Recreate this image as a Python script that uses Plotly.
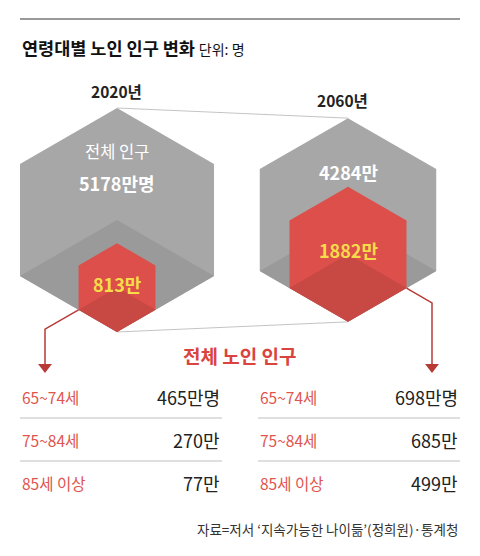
import math
import plotly.graph_objects as go

# data
years = ["2020년", "2060년"]
total_pop = [5178, 4284]          # 만명
elderly_pop = [813, 1882]         # 만명
total_labels = ["5178만명", "4284만"]
elderly_labels = ["813만", "1882만"]
age_groups = ["65~74세", "75~84세", "85세 이상"]
age_2020 = ["465만명", "270만", "77만"]
age_2060 = ["698만명", "685만", "499만"]

# page body keeps its 8px margin, so the axes are set up in window pixels
W, H = 464, 540
OFF = 8
KR = "Noto Sans CJK KR"

GRAY = "#a7a7a7"
GRAY_D = "#9a9a9a"
RED = "#dc4f4a"
RED_D = "#c84843"
LEAD = "#b73a36"
YEL = "#f7dc4a"

scale = 112 / math.sqrt(total_pop[0])   # px per sqrt(만명)
centers_x = [117, 348]
center_y = 220


def hexagon(cx, cy, r):
    h = r * math.sqrt(3) / 2
    return [(cx, cy - r), (cx + h, cy - r / 2), (cx + h, cy + r / 2),
            (cx, cy + r), (cx - h, cy + r / 2), (cx - h, cy - r / 2)]


def poly(pts, color, fig):
    xs = [p[0] for p in pts] + [pts[0][0]]
    ys = [p[1] for p in pts] + [pts[0][1]]
    fig.add_trace(go.Scatter(x=xs, y=ys, fill="toself", fillcolor=color,
                             mode="lines", line=dict(width=0),
                             hoverinfo="skip", showlegend=False))


fig = go.Figure()

big = []
small = []
for i in range(2):
    R = scale * math.sqrt(total_pop[i])
    r = scale * math.sqrt(elderly_pop[i])
    cx = centers_x[i]
    big.append(hexagon(cx, center_y, R))
    small.append(hexagon(cx, center_y + R - r, r))

# thin connector lines between the two cubes
for k in (0, 3):
    fig.add_trace(go.Scatter(x=[big[0][k][0], big[1][k][0]],
                             y=[big[0][k][1], big[1][k][1]],
                             mode="lines", line=dict(color="#c4c4c4", width=1),
                             hoverinfo="skip", showlegend=False))

for i in range(2):
    B, S = big[i], small[i]
    cx = centers_x[i]
    poly(B, GRAY, fig)
    poly([(cx, center_y), B[2], B[3], B[4]], GRAY_D, fig)
    s_cy = (S[0][1] + S[3][1]) / 2
    poly(S, RED, fig)
    poly([(cx, s_cy), S[2], S[3], S[4]], RED_D, fig)

# leader lines with arrows
lead_x = [45, 432]
for i in range(2):
    S = small[i]
    v = S[4] if i == 0 else S[2]
    dx = lead_x[i] - v[0]
    y1 = v[1] + abs(dx) * math.tan(math.radians(30))
    fig.add_trace(go.Scatter(x=[v[0], lead_x[i], lead_x[i]], y=[v[1], y1, 364],
                             mode="lines", line=dict(color=LEAD, width=1.5),
                             hoverinfo="skip", showlegend=False))
    fig.add_trace(go.Scatter(x=[lead_x[i]], y=[367], mode="markers",
                             marker=dict(symbol="triangle-down", size=12, color=LEAD,
                                         line=dict(width=0)),
                             hoverinfo="skip", showlegend=False))

ann = []


def txt(x, y, s, size, color, xanchor="center"):
    ann.append(dict(x=x, y=y, xref="x", yref="y", text=s, showarrow=False,
                    xanchor=xanchor, yanchor="middle",
                    font=dict(family=KR, size=size, color=color)))


txt(20, 47, "<b>연령대별 노인 인구 변화</b> <span style='font-size:14px'>단위: 명</span>",
    17.5, "#111", xanchor="left")
txt(116, 91, "<b>" + years[0] + "</b>", 15.5, "#222")
txt(342, 100, "<b>" + years[1] + "</b>", 15.5, "#222")

txt(117, 151, "전체 인구", 16.5, "white")
txt(117, 183, "<b>" + total_labels[0] + "</b>", 18, "white")
txt(348, 172, "<b>" + total_labels[1] + "</b>", 18, "white")
for i in range(2):
    S = small[i]
    txt(centers_x[i], (S[0][1] + S[3][1]) / 2 - 4, "<b>" + elderly_labels[i] + "</b>",
        18, YEL)

txt(240, 355, "<b>전체 노인 인구</b>", 19, "#d9443e")

row_y = [397, 440, 483]
for j in range(3):
    txt(20, row_y[j], age_groups[j], 15.5, "#e0544d", "left")
    txt(258, row_y[j], age_groups[j], 15.5, "#e0544d", "left")
    txt(222, row_y[j], age_2020[j], 18, "#222", "right")
    txt(460, row_y[j], age_2060[j], 18, "#222", "right")

txt(460, 529, "자료=저서 ‘지속가능한 나이듦’(정희원)·통계청", 13.5, "#333", "right")

shapes = [dict(type="line", xref="x", yref="y", x0=20, x1=460, y0=19, y1=19,
               line=dict(color="#999", width=2))]
for yy in (418, 461):
    for x0, x1 in ((20, 222), (258, 460)):
        shapes.append(dict(type="line", xref="x", yref="y", x0=x0, x1=x1,
                           y0=yy, y1=yy, line=dict(color="#d4d4d4", width=1.5)))

fig.update_layout(width=W, height=H, margin=dict(l=0, r=0, t=0, b=0),
                  paper_bgcolor="white", plot_bgcolor="white",
                  xaxis=dict(range=[OFF, OFF + W], visible=False, fixedrange=True),
                  yaxis=dict(range=[OFF + H, OFF], visible=False, fixedrange=True),
                  annotations=ann, shapes=shapes)

fig.write_html("out.html")
